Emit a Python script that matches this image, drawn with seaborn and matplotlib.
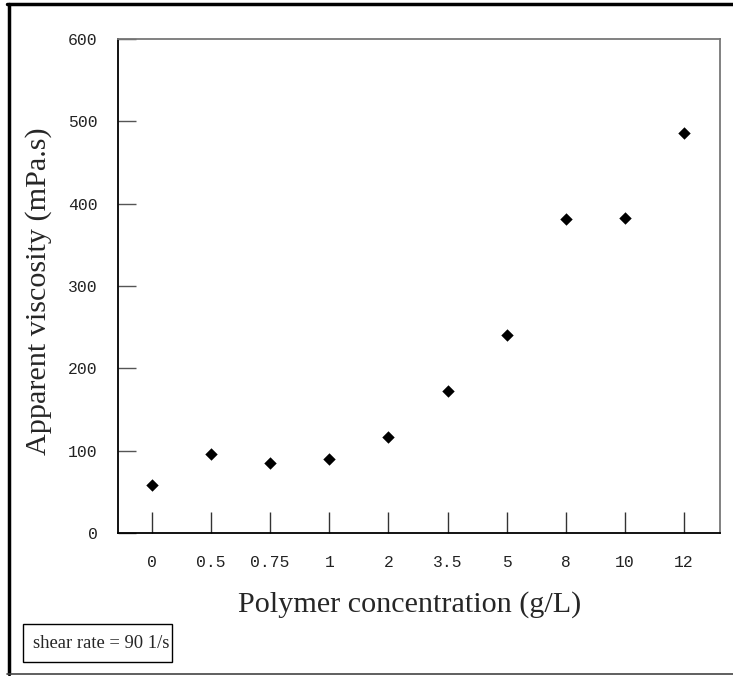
import matplotlib
matplotlib.use("Agg")
import matplotlib.pyplot as plt
import seaborn as sns
import pandas as pd
from matplotlib.patches import Rectangle
from matplotlib.lines import Line2D

categories = ["0", "0.5", "0.75", "1", "2", "3.5", "5", "8", "10", "12"]
viscosity = [58, 96, 85, 90, 116, 172, 241, 381, 383, 486]
y_ticks = [0, 100, 200, 300, 400, 500, 600]

df = pd.DataFrame({"conc": categories, "visc": viscosity})

sns.set_style("white")
W, H = 733, 676
fig = plt.figure(figsize=(W/100, H/100), dpi=100)
ax = fig.add_axes([118/W, 1-533/H, (720-118)/W, (533-39)/H])

sns.scatterplot(data=df, x="conc", y="visc", marker="D", color="black",
                s=40, edgecolor="black", linewidth=0, ax=ax, zorder=3)

ax.set_xlim(-0.576, 9.61)
ax.set_ylim(0, 600)
ax.set_yticks(y_ticks)
ax.set_yticklabels([str(v) for v in y_ticks], family="Liberation Mono", fontsize=11.8, color="#222222")
ax.set_xticks(range(len(categories)))
ax.set_xticklabels(categories, family="Liberation Mono", fontsize=11.8, color="#222222")
ax.tick_params(axis="y", direction="in", length=13, width=1, color="#555555", pad=14.5, left=True)
ax.tick_params(axis="x", direction="in", length=15, width=1, color="#333333", pad=15.5, bottom=True)

for s in ["left", "bottom"]:
    ax.spines[s].set_color("black")
    ax.spines[s].set_linewidth(1.3)
for s in ["top", "right"]:
    ax.spines[s].set_color("#777777")
    ax.spines[s].set_linewidth(1.3)

ax.set_xlabel("")
ax.set_ylabel("")
fig.text(409.5/W, 1-612/H, "Polymer concentration (g/L)", family="Liberation Serif",
         fontsize=21.7, ha="center", va="baseline")
fig.text(39/W, 1-291.5/H, "Apparent viscosity (mPa.s)", family="Liberation Serif",
         fontsize=21.7, ha="center", va="center", rotation=90)

# outer border (top and left thick, bottom thin)
fig.add_artist(Line2D([8.5/W, 8.5/W], [1-3.5/H, 1-674/H], transform=fig.transFigure,
                      color="black", linewidth=2.5))
fig.add_artist(Line2D([7/W, 1], [1-3.5/H, 1-3.5/H], transform=fig.transFigure,
                      color="black", linewidth=2.5))
fig.add_artist(Line2D([7/W, 1], [1-674/H, 1-674/H], transform=fig.transFigure,
                      color="#444444", linewidth=1.2))

# annotation box
fig.patches.append(Rectangle((23/W, 1-662/H), (172-23)/W, (662-624)/H, transform=fig.transFigure,
                             fill=False, edgecolor="black", linewidth=1))
fig.text(33/W, 1-643/H, "shear rate = 90 1/s", family="Liberation Serif", fontsize=13.4,
         va="center", ha="left")

fig.savefig("out.png", dpi=100)
